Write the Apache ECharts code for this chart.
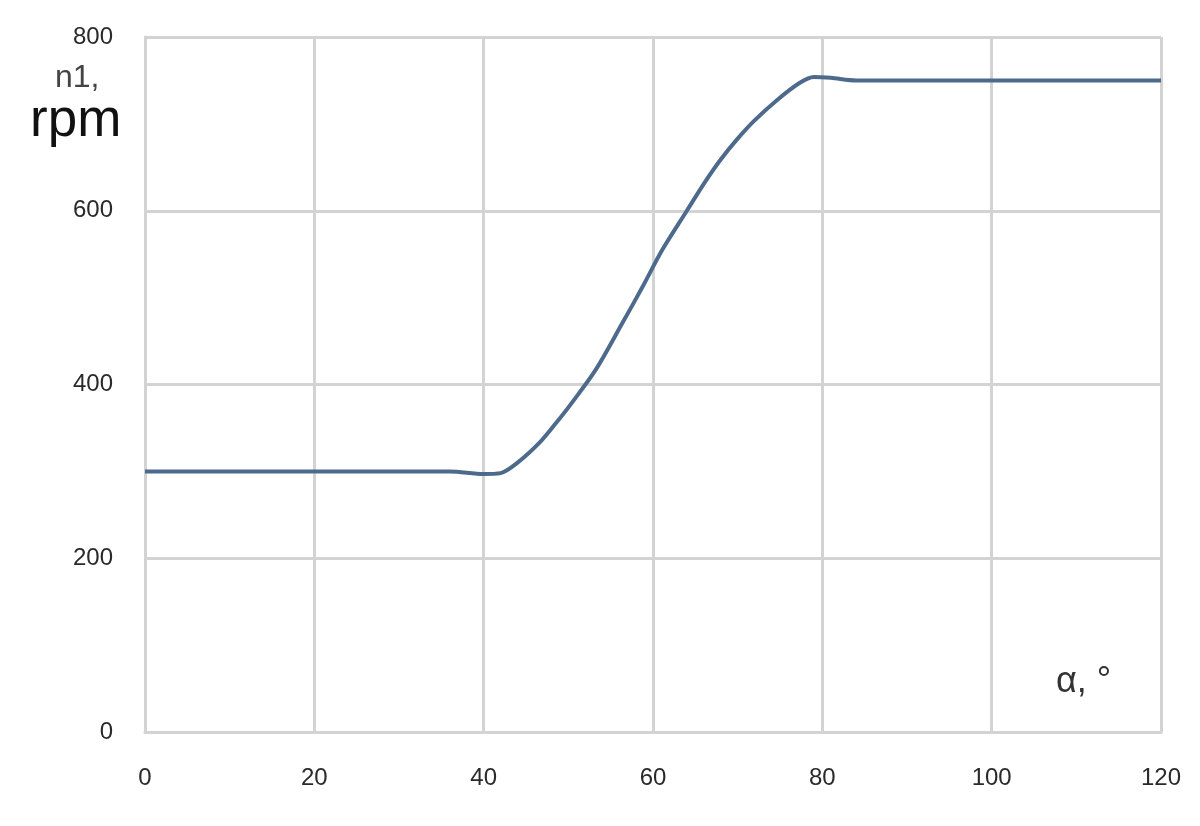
<!DOCTYPE html>
<html>
<head>
<meta charset="utf-8">
<script src="https://cdn.jsdelivr.net/npm/echarts@6/dist/echarts.min.js"></script>
<style>html,body{margin:0;padding:0;background:#fff}#c{width:1200px;height:826px}</style>
</head>
<body>
<div id="c"></div>
<script>
const xValues = [0, 10, 20, 30, 36, 40, 42, 44, 46.6, 48.5, 50.5, 53.3, 56.4, 58.8, 61.1, 64, 66, 68, 70, 72, 74.6, 77.3, 79, 81, 84, 90, 100, 110, 120];
const yValues = [300, 300, 300, 300, 300, 297, 298, 310, 333, 355, 380, 418, 471, 513, 555, 600, 631, 659, 683, 704, 727, 747, 754, 753, 750, 750, 750, 750, 750];
const xTicks = [0, 20, 40, 60, 80, 100, 120];
const yTicks = [0, 200, 400, 600, 800];
const yName1 = 'n1,';
const yName2 = 'rpm';
const xName = 'α, °';

const chart = echarts.init(document.getElementById('c'));
const gridColor = '#d3d3d3';
const labelFont = 'Liberation Sans';
chart.setOption({
  animation: false,
  backgroundColor: '#fff',
  grid: {left: 145, right: 39, top: 37, bottom: 94},
  xAxis: {
    type: 'value', min: 0, max: 120, interval: 20,
    axisLine: {show: true, lineStyle: {color: gridColor, width: 3}},
    axisTick: {show: false},
    splitLine: {show: true, lineStyle: {color: gridColor, width: 3}},
    axisLabel: {color: '#2a2a2a', fontSize: 24, fontFamily: labelFont, margin: 34,
      formatter: v => xTicks.includes(v) ? String(v) : ''}
  },
  yAxis: {
    type: 'value', min: 0, max: 800, interval: 200,
    axisLine: {show: true, lineStyle: {color: gridColor, width: 3}},
    axisTick: {show: false},
    splitLine: {show: true, lineStyle: {color: gridColor, width: 3}},
    axisLabel: {color: '#2a2a2a', fontSize: 24, fontFamily: labelFont, margin: 32,
      formatter: v => yTicks.includes(v) ? String(v) : ''}
  },
  series: [{
    type: 'line', smooth: 0.3, showSymbol: false,
    data: xValues.map((x, i) => [x, yValues[i]]),
    lineStyle: {color: '#4d6a8c', width: 4}
  }],
  graphic: [
    {type: 'text', x: 55, y: 78, style: {text: yName1, fontSize: 32, fontFamily: labelFont, fill: '#444', verticalAlign: 'middle'}},
    {type: 'text', x: 30, y: 121, style: {text: yName2, fontSize: 53, fontFamily: labelFont, fill: '#111', verticalAlign: 'middle'}},
    {type: 'text', x: 1056, y: 682, style: {text: xName, fontSize: 36, fontFamily: labelFont, fill: '#333', verticalAlign: 'middle'}}
  ]
});
</script>
</body>
</html>
